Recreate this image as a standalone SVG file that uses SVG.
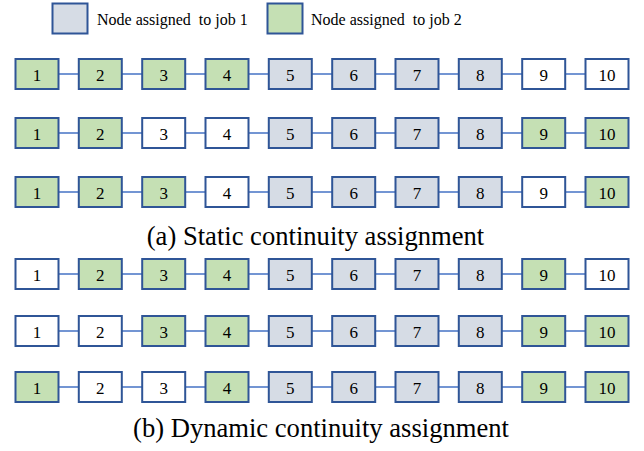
<svg xmlns="http://www.w3.org/2000/svg" width="644" height="451" viewBox="0 0 644 451">
<style>
rect{stroke:#2F5597;stroke-width:2}
.b rect{fill:#D6DCE5}
.g rect{fill:#C5E0B4}
.w rect{fill:#FFFFFF}
text{fill:#000}
.n text{font-size:17px;text-anchor:middle}
.lg{font-size:16px}
.cap{font-size:26.6px;text-anchor:middle}
#connectors line{stroke:#4472C4;stroke-width:1.5}
</style>
<g font-family="Liberation Serif, Times New Roman, serif">
<g id="legend">
<g id="legend1" class="b"><rect x="52.5" y="3.5" width="35" height="30"/></g>
<text class="lg" x="97" y="25">Node assigned&#160; to job 1</text>
<g id="legend2" class="g"><rect x="267.5" y="3.5" width="35" height="30"/></g>
<text class="lg" x="311" y="25">Node assigned&#160; to job 2</text>
</g>
<g id="connectors">
<g id="c1"><line x1="58.5" y1="74" x2="78.8" y2="74"/><line x1="121.8" y1="74" x2="142.2" y2="74"/><line x1="185.2" y1="74" x2="205.5" y2="74"/><line x1="248.5" y1="74" x2="268.8" y2="74"/><line x1="311.8" y1="74" x2="332.2" y2="74"/><line x1="375.2" y1="74" x2="395.5" y2="74"/><line x1="438.5" y1="74" x2="458.8" y2="74"/><line x1="501.8" y1="74" x2="522.2" y2="74"/><line x1="565.2" y1="74" x2="585.5" y2="74"/></g>
<g id="c2"><line x1="58.5" y1="133" x2="78.8" y2="133"/><line x1="121.8" y1="133" x2="142.2" y2="133"/><line x1="185.2" y1="133" x2="205.5" y2="133"/><line x1="248.5" y1="133" x2="268.8" y2="133"/><line x1="311.8" y1="133" x2="332.2" y2="133"/><line x1="375.2" y1="133" x2="395.5" y2="133"/><line x1="438.5" y1="133" x2="458.8" y2="133"/><line x1="501.8" y1="133" x2="522.2" y2="133"/><line x1="565.2" y1="133" x2="585.5" y2="133"/></g>
<g id="c3"><line x1="58.5" y1="192" x2="78.8" y2="192"/><line x1="121.8" y1="192" x2="142.2" y2="192"/><line x1="185.2" y1="192" x2="205.5" y2="192"/><line x1="248.5" y1="192" x2="268.8" y2="192"/><line x1="311.8" y1="192" x2="332.2" y2="192"/><line x1="375.2" y1="192" x2="395.5" y2="192"/><line x1="438.5" y1="192" x2="458.8" y2="192"/><line x1="501.8" y1="192" x2="522.2" y2="192"/><line x1="565.2" y1="192" x2="585.5" y2="192"/></g>
<g id="c4"><line x1="58.5" y1="274" x2="78.8" y2="274"/><line x1="121.8" y1="274" x2="142.2" y2="274"/><line x1="185.2" y1="274" x2="205.5" y2="274"/><line x1="248.5" y1="274" x2="268.8" y2="274"/><line x1="311.8" y1="274" x2="332.2" y2="274"/><line x1="375.2" y1="274" x2="395.5" y2="274"/><line x1="438.5" y1="274" x2="458.8" y2="274"/><line x1="501.8" y1="274" x2="522.2" y2="274"/><line x1="565.2" y1="274" x2="585.5" y2="274"/></g>
<g id="c5"><line x1="58.5" y1="331" x2="78.8" y2="331"/><line x1="121.8" y1="331" x2="142.2" y2="331"/><line x1="185.2" y1="331" x2="205.5" y2="331"/><line x1="248.5" y1="331" x2="268.8" y2="331"/><line x1="311.8" y1="331" x2="332.2" y2="331"/><line x1="375.2" y1="331" x2="395.5" y2="331"/><line x1="438.5" y1="331" x2="458.8" y2="331"/><line x1="501.8" y1="331" x2="522.2" y2="331"/><line x1="565.2" y1="331" x2="585.5" y2="331"/></g>
<g id="c6"><line x1="58.5" y1="387" x2="78.8" y2="387"/><line x1="121.8" y1="387" x2="142.2" y2="387"/><line x1="185.2" y1="387" x2="205.5" y2="387"/><line x1="248.5" y1="387" x2="268.8" y2="387"/><line x1="311.8" y1="387" x2="332.2" y2="387"/><line x1="375.2" y1="387" x2="395.5" y2="387"/><line x1="438.5" y1="387" x2="458.8" y2="387"/><line x1="501.8" y1="387" x2="522.2" y2="387"/><line x1="565.2" y1="387" x2="585.5" y2="387"/></g>
</g>
<g id="row1">
<g id="r1n1" class="n g" transform="translate(15.5,59)"><rect width="43" height="30"/><text x="21.5" y="22">1</text></g>
<g id="r1n2" class="n g" transform="translate(78.8,59)"><rect width="43" height="30"/><text x="21.5" y="22">2</text></g>
<g id="r1n3" class="n g" transform="translate(142.2,59)"><rect width="43" height="30"/><text x="21.5" y="22">3</text></g>
<g id="r1n4" class="n g" transform="translate(205.5,59)"><rect width="43" height="30"/><text x="21.5" y="22">4</text></g>
<g id="r1n5" class="n b" transform="translate(268.8,59)"><rect width="43" height="30"/><text x="21.5" y="22">5</text></g>
<g id="r1n6" class="n b" transform="translate(332.2,59)"><rect width="43" height="30"/><text x="21.5" y="22">6</text></g>
<g id="r1n7" class="n b" transform="translate(395.5,59)"><rect width="43" height="30"/><text x="21.5" y="22">7</text></g>
<g id="r1n8" class="n b" transform="translate(458.8,59)"><rect width="43" height="30"/><text x="21.5" y="22">8</text></g>
<g id="r1n9" class="n w" transform="translate(522.2,59)"><rect width="43" height="30"/><text x="21.5" y="22">9</text></g>
<g id="r1n10" class="n w" transform="translate(585.5,59)"><rect width="43" height="30"/><text x="21.5" y="22">10</text></g>
</g>
<g id="row2">
<g id="r2n1" class="n g" transform="translate(15.5,118)"><rect width="43" height="30"/><text x="21.5" y="22">1</text></g>
<g id="r2n2" class="n g" transform="translate(78.8,118)"><rect width="43" height="30"/><text x="21.5" y="22">2</text></g>
<g id="r2n3" class="n w" transform="translate(142.2,118)"><rect width="43" height="30"/><text x="21.5" y="22">3</text></g>
<g id="r2n4" class="n w" transform="translate(205.5,118)"><rect width="43" height="30"/><text x="21.5" y="22">4</text></g>
<g id="r2n5" class="n b" transform="translate(268.8,118)"><rect width="43" height="30"/><text x="21.5" y="22">5</text></g>
<g id="r2n6" class="n b" transform="translate(332.2,118)"><rect width="43" height="30"/><text x="21.5" y="22">6</text></g>
<g id="r2n7" class="n b" transform="translate(395.5,118)"><rect width="43" height="30"/><text x="21.5" y="22">7</text></g>
<g id="r2n8" class="n b" transform="translate(458.8,118)"><rect width="43" height="30"/><text x="21.5" y="22">8</text></g>
<g id="r2n9" class="n g" transform="translate(522.2,118)"><rect width="43" height="30"/><text x="21.5" y="22">9</text></g>
<g id="r2n10" class="n g" transform="translate(585.5,118)"><rect width="43" height="30"/><text x="21.5" y="22">10</text></g>
</g>
<g id="row3">
<g id="r3n1" class="n g" transform="translate(15.5,177)"><rect width="43" height="30"/><text x="21.5" y="22">1</text></g>
<g id="r3n2" class="n g" transform="translate(78.8,177)"><rect width="43" height="30"/><text x="21.5" y="22">2</text></g>
<g id="r3n3" class="n g" transform="translate(142.2,177)"><rect width="43" height="30"/><text x="21.5" y="22">3</text></g>
<g id="r3n4" class="n w" transform="translate(205.5,177)"><rect width="43" height="30"/><text x="21.5" y="22">4</text></g>
<g id="r3n5" class="n b" transform="translate(268.8,177)"><rect width="43" height="30"/><text x="21.5" y="22">5</text></g>
<g id="r3n6" class="n b" transform="translate(332.2,177)"><rect width="43" height="30"/><text x="21.5" y="22">6</text></g>
<g id="r3n7" class="n b" transform="translate(395.5,177)"><rect width="43" height="30"/><text x="21.5" y="22">7</text></g>
<g id="r3n8" class="n b" transform="translate(458.8,177)"><rect width="43" height="30"/><text x="21.5" y="22">8</text></g>
<g id="r3n9" class="n w" transform="translate(522.2,177)"><rect width="43" height="30"/><text x="21.5" y="22">9</text></g>
<g id="r3n10" class="n g" transform="translate(585.5,177)"><rect width="43" height="30"/><text x="21.5" y="22">10</text></g>
</g>
<text class="cap" x="315.5" y="244.5">(a) Static continuity assignment</text>
<g id="row4">
<g id="r4n1" class="n w" transform="translate(15.5,259)"><rect width="43" height="30"/><text x="21.5" y="22">1</text></g>
<g id="r4n2" class="n g" transform="translate(78.8,259)"><rect width="43" height="30"/><text x="21.5" y="22">2</text></g>
<g id="r4n3" class="n g" transform="translate(142.2,259)"><rect width="43" height="30"/><text x="21.5" y="22">3</text></g>
<g id="r4n4" class="n g" transform="translate(205.5,259)"><rect width="43" height="30"/><text x="21.5" y="22">4</text></g>
<g id="r4n5" class="n b" transform="translate(268.8,259)"><rect width="43" height="30"/><text x="21.5" y="22">5</text></g>
<g id="r4n6" class="n b" transform="translate(332.2,259)"><rect width="43" height="30"/><text x="21.5" y="22">6</text></g>
<g id="r4n7" class="n b" transform="translate(395.5,259)"><rect width="43" height="30"/><text x="21.5" y="22">7</text></g>
<g id="r4n8" class="n b" transform="translate(458.8,259)"><rect width="43" height="30"/><text x="21.5" y="22">8</text></g>
<g id="r4n9" class="n g" transform="translate(522.2,259)"><rect width="43" height="30"/><text x="21.5" y="22">9</text></g>
<g id="r4n10" class="n w" transform="translate(585.5,259)"><rect width="43" height="30"/><text x="21.5" y="22">10</text></g>
</g>
<g id="row5">
<g id="r5n1" class="n w" transform="translate(15.5,316)"><rect width="43" height="30"/><text x="21.5" y="22">1</text></g>
<g id="r5n2" class="n w" transform="translate(78.8,316)"><rect width="43" height="30"/><text x="21.5" y="22">2</text></g>
<g id="r5n3" class="n g" transform="translate(142.2,316)"><rect width="43" height="30"/><text x="21.5" y="22">3</text></g>
<g id="r5n4" class="n g" transform="translate(205.5,316)"><rect width="43" height="30"/><text x="21.5" y="22">4</text></g>
<g id="r5n5" class="n b" transform="translate(268.8,316)"><rect width="43" height="30"/><text x="21.5" y="22">5</text></g>
<g id="r5n6" class="n b" transform="translate(332.2,316)"><rect width="43" height="30"/><text x="21.5" y="22">6</text></g>
<g id="r5n7" class="n b" transform="translate(395.5,316)"><rect width="43" height="30"/><text x="21.5" y="22">7</text></g>
<g id="r5n8" class="n b" transform="translate(458.8,316)"><rect width="43" height="30"/><text x="21.5" y="22">8</text></g>
<g id="r5n9" class="n g" transform="translate(522.2,316)"><rect width="43" height="30"/><text x="21.5" y="22">9</text></g>
<g id="r5n10" class="n g" transform="translate(585.5,316)"><rect width="43" height="30"/><text x="21.5" y="22">10</text></g>
</g>
<g id="row6">
<g id="r6n1" class="n g" transform="translate(15.5,372)"><rect width="43" height="30"/><text x="21.5" y="22">1</text></g>
<g id="r6n2" class="n w" transform="translate(78.8,372)"><rect width="43" height="30"/><text x="21.5" y="22">2</text></g>
<g id="r6n3" class="n w" transform="translate(142.2,372)"><rect width="43" height="30"/><text x="21.5" y="22">3</text></g>
<g id="r6n4" class="n g" transform="translate(205.5,372)"><rect width="43" height="30"/><text x="21.5" y="22">4</text></g>
<g id="r6n5" class="n b" transform="translate(268.8,372)"><rect width="43" height="30"/><text x="21.5" y="22">5</text></g>
<g id="r6n6" class="n b" transform="translate(332.2,372)"><rect width="43" height="30"/><text x="21.5" y="22">6</text></g>
<g id="r6n7" class="n b" transform="translate(395.5,372)"><rect width="43" height="30"/><text x="21.5" y="22">7</text></g>
<g id="r6n8" class="n b" transform="translate(458.8,372)"><rect width="43" height="30"/><text x="21.5" y="22">8</text></g>
<g id="r6n9" class="n g" transform="translate(522.2,372)"><rect width="43" height="30"/><text x="21.5" y="22">9</text></g>
<g id="r6n10" class="n g" transform="translate(585.5,372)"><rect width="43" height="30"/><text x="21.5" y="22">10</text></g>
</g>
<text class="cap" x="321" y="437">(b) Dynamic continuity assignment</text>
</g>
</svg>
